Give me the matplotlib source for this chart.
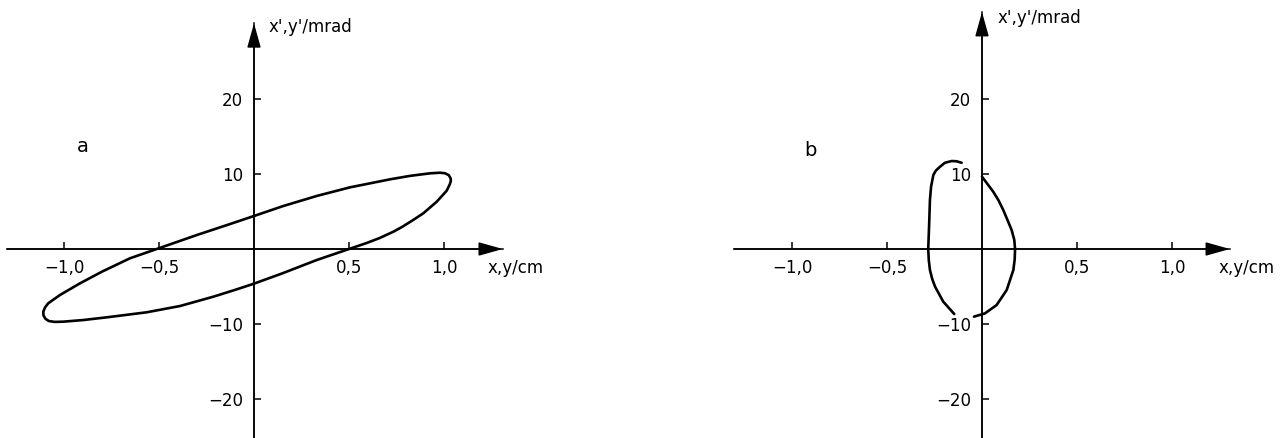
"""Phase-space ellipses, panels a and b — saves out.png"""
import matplotlib
matplotlib.use("Agg")
import matplotlib.pyplot as plt
from matplotlib.patches import FancyArrowPatch

# --- data (x in cm, x' in mrad) ---
# panel a: closed ellipse, traced clockwise from the upper y-axis crossing
xa = [0.0, 0.154, 0.33, 0.505, 0.716, 0.821, 0.926, 0.979, 1.005, 1.025,
      1.035, 1.036, 1.030, 1.014, 0.962, 0.891, 0.838, 0.78, 0.733, 0.66,
      0.593, 0.505, 0.33, 0.154, 0.0, -0.091, -0.214, -0.389, -0.565,
      -0.775, -0.898, -1.004, -1.05, -1.08, -1.098, -1.108, -1.109, -1.100,
      -1.083, -1.021, -0.916, -0.80, -0.653, -0.512, -0.30, -0.126, 0.0]
ya = [4.4, 5.73, 7.07, 8.22, 9.29, 9.75, 10.09, 10.17, 10.1, 9.85,
      9.42, 9.05, 8.6, 7.77, 6.31, 4.76, 3.87, 2.95, 2.3, 1.45,
      0.8, 0.04, -1.47, -3.2, -4.62, -5.38, -6.36, -7.6, -8.44,
      -9.11, -9.47, -9.69, -9.72, -9.6, -9.3, -8.85, -8.36, -7.8,
      -7.24, -6.13, -4.58, -3.02, -1.24, 0.0, 1.87, 3.33, 4.4]

# panel b: two open branches
xb_left = [-0.107, -0.135, -0.159, -0.195, -0.221, -0.243, -0.256, -0.268,
           -0.274, -0.278, -0.283, -0.280, -0.274, -0.262, -0.247, -0.204,
           -0.146]
yb_left = [11.5, 11.7, 11.73, 11.5, 10.97, 10.45, 9.87, 8.31,
           6.53, 3.42, 0.0, -1.5, -2.8, -4.0, -5.02, -7.02,
           -8.67]
xb_right = [0.0, 0.059, 0.086, 0.112, 0.156, 0.170, 0.174, 0.172, 0.165,
            0.13, 0.077, 0.016, -0.042]
yb_right = [9.64, 7.64, 6.53, 5.2, 2.53, 1.2, 0.0, -1.4, -2.8,
            -5.47, -7.47, -8.58, -9.02]

xticks = [-1.0, -0.5, 0.5, 1.0]
xticklabels = ["\u22121,0", "\u22120,5", "0,5", "1,0"]
yticks = [-20, -10, 10, 20]
yticklabels = ["\u221220", "\u221210", "10", "20"]

W, H = 1281, 438
PX_X, PX_Y = 190.0, 7.5   # pixels per cm / per mrad

plt.rcParams["font.family"] = ["DejaVu Sans"]
fig = plt.figure(figsize=(W / 100, H / 100), dpi=100)


def make_axes(ox, oy, xlim, ylim):
    left = ox + xlim[0] * PX_X
    width = (xlim[1] - xlim[0]) * PX_X
    top = oy - ylim[1] * PX_Y
    bottom = oy - ylim[0] * PX_Y
    ax = fig.add_axes([left / W, 1 - bottom / H, width / W, (bottom - top) / H])
    ax.set_xlim(*xlim)
    ax.set_ylim(*ylim)
    ax.patch.set_visible(False)
    for s in ("top", "right"):
        ax.spines[s].set_visible(False)
    for s in ("left", "bottom"):
        ax.spines[s].set_position(("data", 0))
        ax.spines[s].set_linewidth(1.1)
    ax.set_xticks(xticks)
    ax.set_xticklabels(xticklabels)
    ax.set_yticks(yticks)
    ax.set_yticklabels(yticklabels)
    ax.tick_params(direction="in", length=5, width=1.1, labelsize=12)
    ax.tick_params(axis="x", pad=7)
    ax.tick_params(axis="y", pad=8)
    # arrowheads at the positive ends of both axes
    style = "-|>,head_length=1.5,head_width=0.42"
    for p0, p1 in (((xlim[0], 0), (xlim[1], 0)), ((0, ylim[0]), (0, ylim[1]))):
        ax.add_patch(FancyArrowPatch(p0, p1, arrowstyle=style, color="k",
                                     lw=1.1, shrinkA=0, shrinkB=0,
                                     mutation_scale=10, clip_on=False))
    return ax


# --- panel a ---
ax1 = make_axes(254, 249, (-1.30, 1.31), (-25.2, 30.1))
ax1.plot(xa, ya, color="k", lw=1.9, solid_joinstyle="round", clip_on=False)
ax1.text(-0.9, 13.6, "a", fontsize=14, ha="center", va="center")
ax1.text(1.23, -3.2, "x,y/cm", fontsize=12, ha="left", va="baseline")
ax1.text(0.079, 29.0, "x',y'/mrad", fontsize=12, ha="left", va="baseline")

# --- panel b ---
ax2 = make_axes(982, 249, (-1.305, 1.305), (-25.2, 31.6))
ax2.plot(xb_left, yb_left, color="k", lw=1.9, solid_capstyle="round",
         solid_joinstyle="round")
ax2.plot(xb_right, yb_right, color="k", lw=1.9, solid_capstyle="round",
         solid_joinstyle="round")
ax2.text(-0.905, 13.2, "b", fontsize=14, ha="center", va="center")
ax2.text(1.245, -3.2, "x,y/cm", fontsize=12, ha="left", va="baseline")
ax2.text(0.084, 30.1, "x',y'/mrad", fontsize=12, ha="left", va="baseline")

fig.savefig("out.png", dpi=100)
